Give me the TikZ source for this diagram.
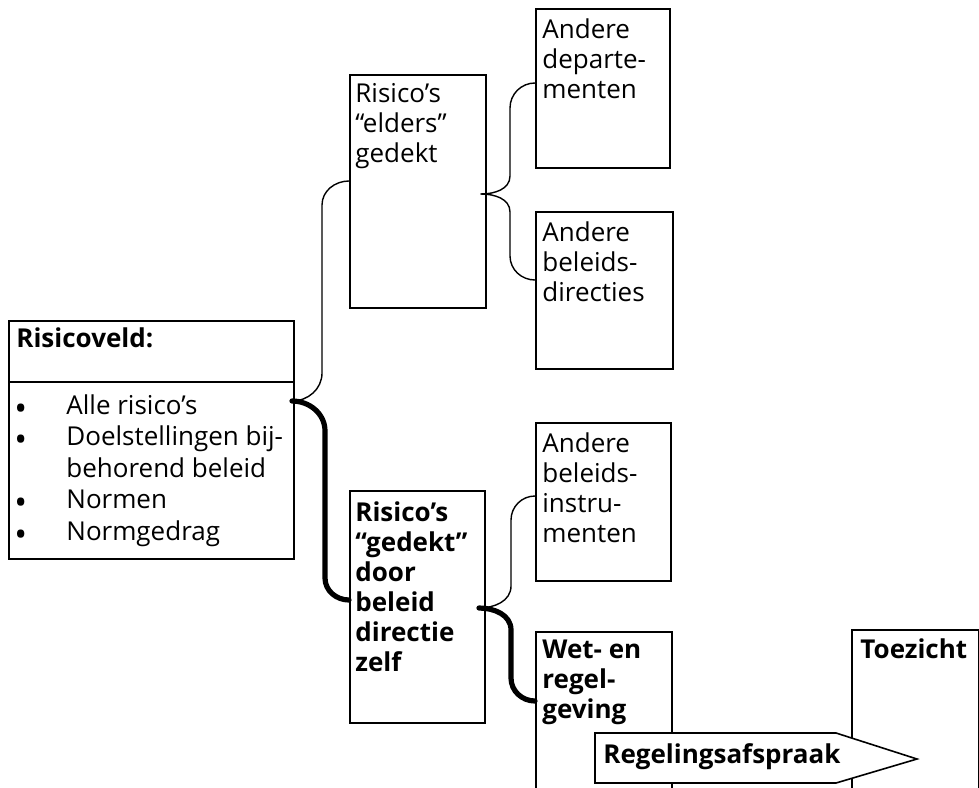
\documentclass[tikz,border=0pt]{standalone}
\usepackage{fontspec}
\setmainfont{Open Sans}
\usetikzlibrary{positioning, calc}

\begin{document}
\begin{tikzpicture}[x=0.5pt, y=-0.5pt]
\tikzstyle{every node}+=[inner sep=0pt]
\tikzstyle{vak}=[draw=black, line width=0.8pt, anchor=north west]
\tikzstyle{txt}=[anchor=north west, align=left, font=\fontsize{13}{15}\selectfont]
\tikzstyle{dun}=[line width=0.7pt, line cap=round]
\tikzstyle{dik}=[line width=2.6pt, line cap=round]
\useasboundingbox (0,0) rectangle (979,787);
\clip (0,0) rectangle (979,787);
\node[vak, minimum width=142.5pt, minimum height=119pt] (veld) at (8,320) {};
\node[vak, minimum width=68pt, minimum height=116.5pt] (elders) at (349,74) {};
\node[vak, minimum width=67.5pt, minimum height=116pt] (gedekt) at (349,490) {};
\node[vak, minimum width=67pt, minimum height=79.5pt] (dep) at (535,8) {};
\node[vak, minimum width=68.5pt, minimum height=78.5pt] (dir) at (535,211) {};
\node[vak, minimum width=67.5pt, minimum height=79pt] (instr) at (535,422) {};
\node[vak, minimum width=68pt, minimum height=90pt] (wet) at (535,631) {};
\node[vak, minimum width=63.5pt, minimum height=90pt] (toezicht) at (851,629) {};
\draw[line width=0.8pt] (veld.west |- 0,382) -- (veld.east |- 0,382);
\node[txt] (veldkop) at ($(veld.north west)+(8,7)$) {\bfseries Risicoveld:};
\node[txt, font=\fontsize{17}{15.75}\selectfont] (stip) at (14,394) {\vphantom{Al}•\\•\\\mbox{}\\•\\•};
\node[txt, font=\fontsize{13}{15.75}\selectfont] (lijst) at (66,394) {Alle risico’s\\Doelstellingen bij-\\behorend beleid\\Normen\\Normgedrag};
\node[txt] (elderstxt) at ($(elders.north west)+(6,9)$) {Risico’s\\“elders”\\gedekt};
\node[txt] (gedekttxt) at ($(gedekt.north west)+(6,11)$) {\bfseries Risico’s\\\bfseries “gedekt”\\\bfseries door\\\bfseries beleid\\\bfseries directie\\\bfseries zelf};
\node[txt] (deptxt) at ($(dep.north west)+(7,10)$) {Andere\\departe-\\menten};
\node[txt] (dirtxt) at ($(dir.north west)+(7,10)$) {Andere\\beleids-\\directies};
\node[txt] (instrtxt) at ($(instr.north west)+(7,10)$) {Andere\\beleids-\\instru-\\menten};
\node[txt] (wettxt) at ($(wet.north west)+(7,9)$) {\bfseries Wet- en\\\bfseries regel-\\\bfseries geving};
\node[txt] (toezichttxt) at ($(toezicht.north west)+(9,9)$) {\bfseries Toezicht};
\draw[line width=0.8pt, fill=white] (595,733) -- (836,733) -- (917,759) -- (836,783) -- (595,783) -- cycle;
\node[txt] (afspraak) at (603,743) {\bfseries Regelingsafspraak};
\coordinate (tipA) at (292,401);
\coordinate (tipB) at (481,194);
\coordinate (tipC) at (479,608);
\draw[dun] (tipA) to[out=0,in=-90] ++(30,-28) -- ++(0,-168) to[out=90,in=180] ($(elders.north west)+(0,107)$);
\draw[dik] (tipA) to[out=0,in=90] ++(33,30) -- ++(0,147) to[out=-90,in=180] ($(gedekt.north west)+(0,110)$);
\draw[dun] (tipB) to[out=0,in=-90] ++(29,-18) -- ++(0,-68) to[out=90,in=180] ($(dep.north west)+(0,75)$);
\draw[dun] (tipB) to[out=0,in=90] ++(29,18) -- ++(0,44) to[out=-90,in=180] ($(dir.north west)+(0,69)$);
\draw[dun] (tipC) to[out=0,in=-90] ++(32,-22) -- ++(0,-66) to[out=90,in=180] ($(instr.north west)+(0,74)$);
\draw[dik] (tipC) to[out=0,in=90] ++(32,22) -- ++(0,48) to[out=-90,in=180] ($(wet.north west)+(0,70)$);
\end{tikzpicture}
\end{document}
